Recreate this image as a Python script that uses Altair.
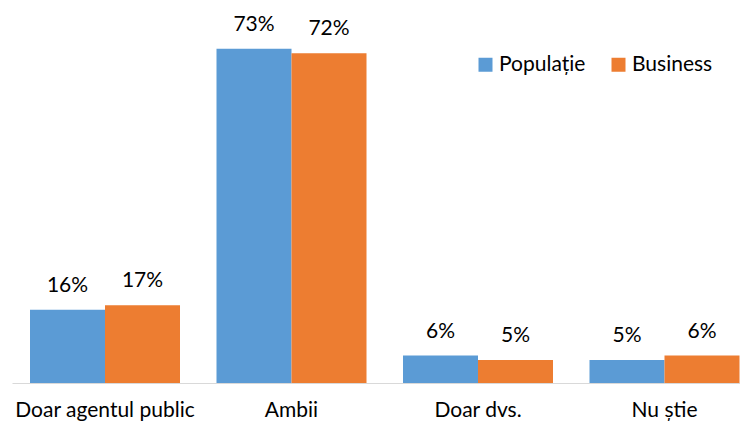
import altair as alt
import pandas as pd

categories = ["Doar agentul public", "Ambii", "Doar dvs.", "Nu știe"]
series = ["Populație", "Business"]
populatie = [16, 73, 6, 5]
business = [17, 72, 5, 6]
colors = ["#5B9BD5", "#ED7D31"]

rows = []
for c, p, b in zip(categories, populatie, business):
    rows.append({"cat": c, "ser": series[0], "val": p})
    rows.append({"cat": c, "ser": series[1], "val": b})
df = pd.DataFrame(rows)
df["label"] = df["val"].astype(str) + "%"

FONT = "Lato"
FS = 21

x = alt.X(
    "cat:N", sort=categories, title=None,
    scale=alt.Scale(paddingInner=0.1957, paddingOuter=0.0496, align=0.973),
    axis=alt.Axis(labelAngle=0, ticks=False, domainColor="#D9D9D9", domainWidth=1,
                  labelFontSize=FS, labelFont=FONT, labelColor="#000000",
                  labelPadding=16, grid=False),
)
xo = alt.XOffset("ser:N", sort=series, scale=alt.Scale(paddingInner=0, paddingOuter=0))
y = alt.Y("val:Q", scale=alt.Scale(domain=[0, 81.9], nice=False, zero=True), axis=None)
color = alt.Color(
    "ser:N", sort=series,
    scale=alt.Scale(domain=series, range=colors),
    legend=alt.Legend(orient="none", legendX=463, legendY=46, direction="horizontal",
                      title=None, symbolType="square", symbolSize=196, symbolStrokeWidth=0,
                      labelFontSize=FS, labelFont=FONT, labelColor="#000000",
                      columnPadding=22, labelOffset=3),
)

bars = alt.Chart(df).mark_bar().encode(x=x, xOffset=xo, y=y, color=color)
text = alt.Chart(df).mark_text(baseline="alphabetic", dy=-18, fontSize=FS, font=FONT,
                               color="#000000").encode(x=x, xOffset=xo, y=y, text="label:N")

chart = (bars + text).properties(
    width=728, height=375,
    padding={"left": 4, "top": 0, "right": 0, "bottom": 41},
    autosize=alt.AutoSizeParams(type="none"),
).configure_view(stroke=None)

chart.save("out.html", embed_options={"renderer": "svg", "actions": False})
